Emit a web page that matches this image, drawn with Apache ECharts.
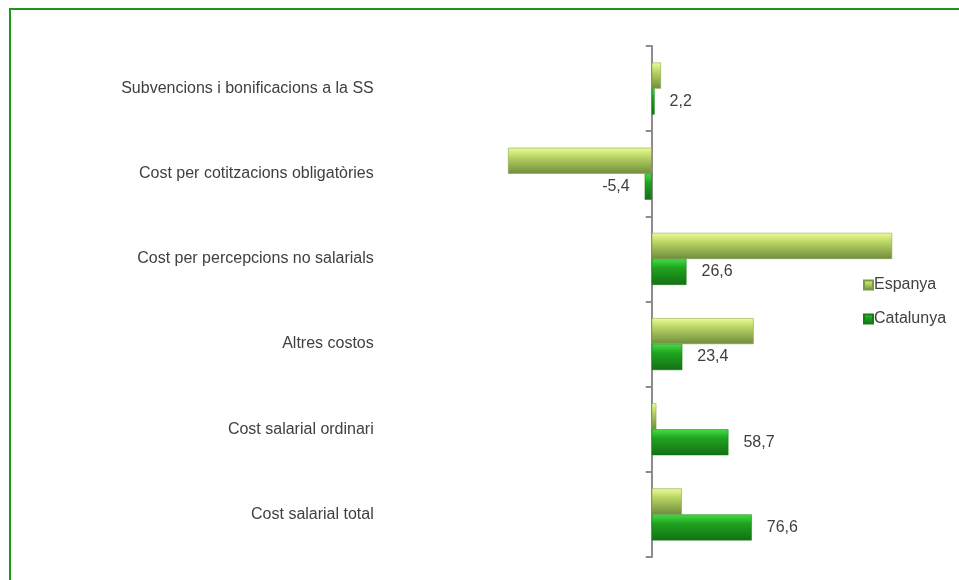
<!DOCTYPE html>
<html>
<head>
<meta charset="utf-8">
<script src="https://cdn.jsdelivr.net/npm/echarts@6/dist/echarts.min.js"></script>
<style>
  html, body { margin: 0; padding: 0; background: #fff; }
  #main { width: 959px; height: 580px; }
</style>
</head>
<body>
<div id="main"></div>
<script>
// categories listed bottom to top (category axis on y starts at the bottom)
var categories = [
  'Cost salarial total',
  'Cost salarial ordinari',
  'Altres costos',
  'Cost per percepcions no salarials',
  'Cost per cotitzacions obligatòries',
  'Subvencions i bonificacions a la SS'
];
var espanya = [23, 3.5, 78, 184, -110, 7];
var catalunya = [76.6, 58.7, 23.4, 26.6, -5.4, 2.2];

var myChart = echarts.init(document.getElementById('main'));

function grad(top, mid, bottom) {
  return new echarts.graphic.LinearGradient(0, 0, 0, 1, [
    { offset: 0, color: top },
    { offset: 0.35, color: mid },
    { offset: 1, color: bottom }
  ]);
}

var catData = catalunya.map(function (v) {
  return {
    value: v,
    label: { position: v < 0 ? 'left' : 'right' }
  };
});

var txt = { fontFamily: 'Liberation Sans', fontSize: 16, color: '#404040' };

var xMin = -120, xMax = 200;
var gridLeft = 495, gridWidth = 418;
// shift the category axis from the grid edge to the zero line
var zeroShift = -gridWidth * (0 - xMin) / (xMax - xMin);

myChart.setOption({
  animation: false,
  graphic: [{
    type: 'rect',
    shape: { x: 10, y: 9, width: 1200, height: 1000 },
    style: { fill: 'none', stroke: '#1e961e', lineWidth: 2 },
    silent: true
  }],
  legend: {
    orient: 'vertical',
    left: 858,
    top: 272,
    itemWidth: 9,
    itemHeight: 9,
    itemGap: 18,
    icon: 'rect',
    textStyle: Object.assign({ padding: [0, 0, 0, -4] }, txt),
    data: ['Espanya', 'Catalunya']
  },
  grid: {
    left: gridLeft,
    width: gridWidth,
    top: 46,
    bottom: 23,
    outerBoundsMode: 'none'
  },
  xAxis: {
    type: 'value',
    min: xMin,
    max: xMax,
    show: false
  },
  yAxis: {
    type: 'category',
    data: categories,
    offset: zeroShift,
    axisLine: { show: true, onZero: false, lineStyle: { color: '#8c8c8c', width: 2 } },
    axisTick: { show: true, inside: false, alignWithLabel: false, length: 6, lineStyle: { color: '#8c8c8c', width: 2 } },
    axisLabel: Object.assign({ margin: 278 }, txt),
    splitLine: { show: false }
  },
  series: [
    {
      name: 'Espanya',
      type: 'bar',
      data: espanya,
      barWidth: 26,
      barGap: '0%',
      itemStyle: {
        color: grad('#eefb9a', '#b9d665', '#6f8c3c'),
        borderColor: '#7a9a45',
        borderWidth: 0.5
      }
    },
    {
      name: 'Catalunya',
      type: 'bar',
      data: catData,
      barWidth: 26,
      itemStyle: {
        color: grad('#44dd44', '#1fa31f', '#147014'),
        borderColor: '#177a17',
        borderWidth: 0.5
      },
      label: Object.assign({
        show: true,
        distance: 15,
        formatter: function (p) {
          return String(p.value).replace('.', ',');
        }
      }, txt)
    }
  ]
});
</script>
</body>
</html>
